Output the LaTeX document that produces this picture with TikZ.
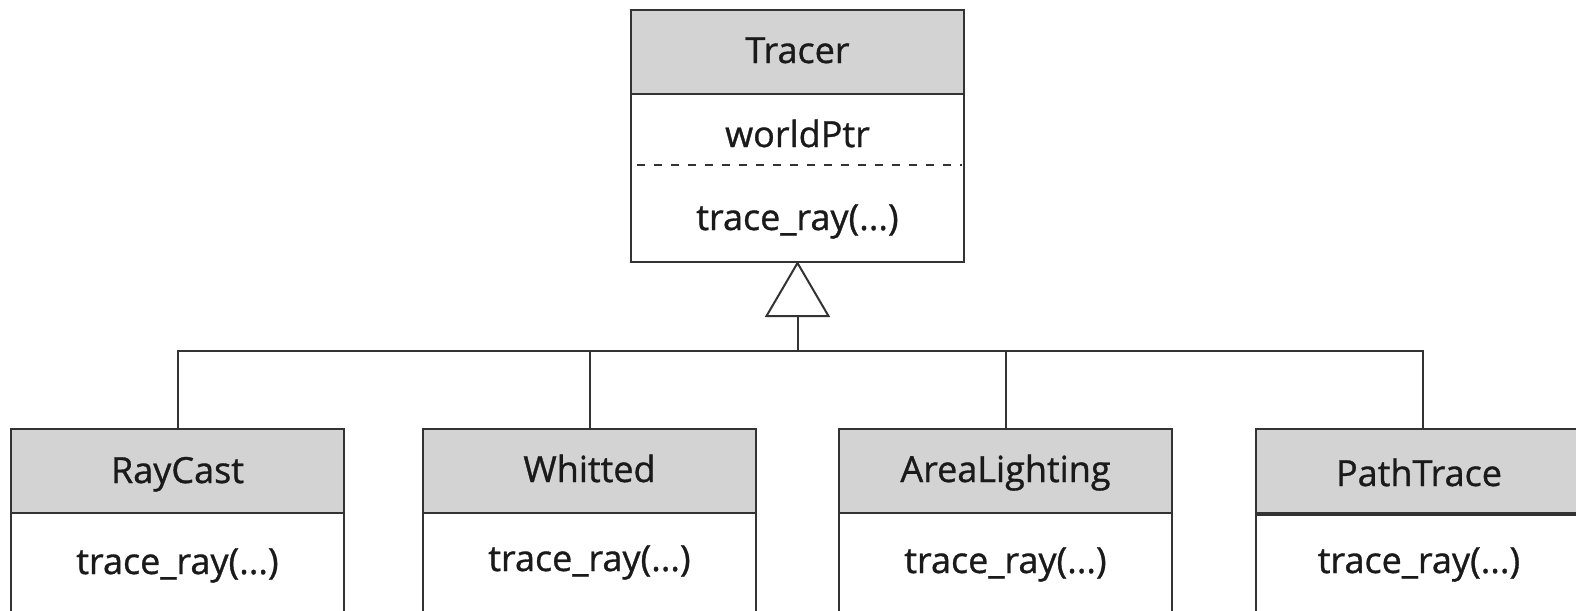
\documentclass[tikz,border=0pt]{standalone}
\usepackage{fontspec}
\setmainfont{Open Sans}[BoldFont=Open Sans, BoldFeatures={FakeBold=0.9}]
\definecolor{linegray}{HTML}{333333}
\definecolor{headgray}{HTML}{D3D3D3}
\definecolor{inkgray}{HTML}{1A1A1A}
\begin{document}
\begin{tikzpicture}[x=0.5pt,y=-0.5pt,
  line/.style={draw=linegray, line width=1pt},
  headbox/.style={line, fill=headgray, minimum width=166.5pt, minimum height=42pt, inner sep=0pt},
  bodybox/.style={line, fill=white, minimum width=166.5pt, inner sep=0pt},
  lowbody/.style={bodybox, minimum height=63.5pt},
  lbl/.style={anchor=base, inner sep=0pt, text=inkgray, font=\fontsize{18pt}{22pt}\selectfont\bfseries}]
\useasboundingbox (0,0) rectangle (1576,611);
\clip (0,0) rectangle (1576,611);

% base class
\node[bodybox, minimum height=84pt] (tracer-body) at (797.5,178) {};
\node[headbox] (tracer-head) at (797.5,52) {};
\node[lbl] (tracer-name) at (797.5,63) {Tracer};
\node[lbl] (tracer-attr) at (797.5,147) {worldPtr};
\node[lbl] (tracer-op) at (797.5,230) {trace\_ray(...)};
\coordinate (dash-l) at (637,165);
\coordinate (dash-r) at (962,165);
\draw[line, dash pattern=on 4pt off 4.5pt] (dash-l) -- (dash-r);

% derived classes
\node[lowbody] (raycast-body) at (177.5,576.5) {};
\node[headbox] (raycast-head) at (177.5,471) {};
\node[lbl] (raycast-name) at (177.5,483) {RayCast};
\node[lbl] (raycast-op) at (177.5,574) {trace\_ray(...)};

\node[lowbody] (whitted-body) at (589.5,576.5) {};
\node[headbox] (whitted-head) at (589.5,471) {};
\node[lbl] (whitted-name) at (589.5,482) {Whitted};
\node[lbl] (whitted-op) at (589.5,571) {trace\_ray(...)};

\node[lowbody] (area-body) at (1005.5,576.5) {};
\node[headbox] (area-head) at (1005.5,471) {};
\node[lbl] (area-name) at (1005.5,482) {AreaLighting};
\node[lbl] (area-op) at (1005.5,573) {trace\_ray(...)};

\node[lowbody] (path-body) at (1422.5,576.5) {};
\node[headbox] (path-head) at (1422.5,471) {};
\draw[line, line width=1.6pt] (path-head.south west) -- (path-head.south east);
\node[lbl] (path-name) at (1419,486) {PathTrace};
\node[lbl] (path-op) at (1419,573) {trace\_ray(...)};

% generalization arrow and bus
\draw[line, fill=white, line join=miter] (tracer-body.south) -- ++(-31,53) -- ++(62,0) -- cycle;
\path (tracer-body.south) ++(0,53) coordinate (tri-base);
\coordinate (bus) at (797.5,351);
\draw[line] (tri-base) -- (bus);
\draw[line] (raycast-head.north) |- (bus);
\draw[line] (whitted-head.north) |- (bus);
\draw[line] (area-head.north) |- (bus);
\draw[line] (path-head.north) |- (bus);
\end{tikzpicture}
\end{document}
